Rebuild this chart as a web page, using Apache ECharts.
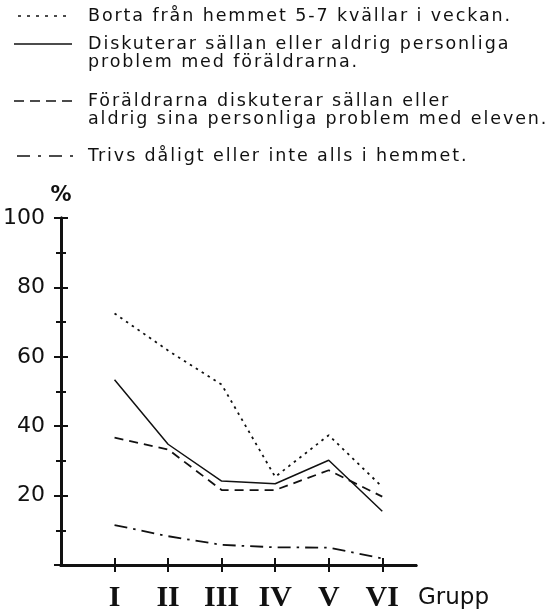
<!DOCTYPE html>
<html><head><meta charset="utf-8">
<script src="https://cdn.jsdelivr.net/npm/echarts@6/dist/echarts.min.js"></script>
<style>html,body{margin:0;padding:0;background:#fff}#c{width:557px;height:614px}</style>
</head><body><div id="c"></div>
<script>
var groups = [1, 2, 3, 4, 5, 6];
var groupLabels = ['I', 'II', 'III', 'IV', 'V', 'VI'];
var bortaHemma = [72.5, 61.8, 52, 25.4, 37.4, 22.5];
var diskuterarSallan = [53.4, 34.8, 24.2, 23.4, 30.2, 15.5];
var foraldrarDiskuterar = [36.7, 33.3, 21.6, 21.6, 27.3, 19.7];
var trivsDaligt = [11.5, 8.3, 5.8, 5.1, 5.0, 1.9];
var legendLines = [
  ['Borta från hemmet 5-7 kvällar i veckan.'],
  ['Diskuterar sällan eller aldrig personliga', 'problem med föräldrarna.'],
  ['Föräldrarna diskuterar sällan eller', 'aldrig sina personliga problem med eleven.'],
  ['Trivs dåligt eller inte alls i hemmet.']
];

// widen the lettering of the legend text (reference uses spaced stencil lettering)
(function(){
  var P = CanvasRenderingContext2D.prototype, orig = P.fillText;
  P.fillText = function(t, x, y, m){
    if ('letterSpacing' in this) this.letterSpacing = (this.font.indexOf('17.5px') >= 0) ? '1.9px' : '0px';
    return m === undefined ? orig.call(this, t, x, y) : orig.call(this, t, x, y, m);
  };
})();

function pairs(vals){ return groups.map(function(g,i){ return [g, vals[i]]; }); }

var ink = '#111';
var dashes = [[2.5, 4.5], null, [9, 6], [13, 6, 2.5, 6]];
var legendDashes = [[3, 6], null, [10, 6], [13, 8, 3, 8]];
var legendY = [[16], [44, 62], [101, 119], [156]];
var legendX = [[18, 66], [14, 72], [14, 73], [17, 73]];
var seriesVals = [bortaHemma, diskuterarSallan, foraldrarDiskuterar, trivsDaligt];

var graphic = [];
legendLines.forEach(function(lines, k){
  graphic.push({type:'line', shape:{x1:legendX[k][0], y1:legendY[k][0], x2:legendX[k][1], y2:legendY[k][0]},
    style:{stroke:ink, lineWidth:1.7, lineDash: legendDashes[k] || null}});
  lines.forEach(function(t, j){
    graphic.push({type:'text', x:88, y:legendY[k][j], style:{text:t, fill:ink, font:'17.5px "DejaVu Sans"', textVerticalAlign:'middle'}});
  });
});
graphic.push({type:'text', x:418, y:598, style:{text:'Grupp', fill:ink, font:'23px "DejaVu Sans"', textVerticalAlign:'middle'}});

var chart = echarts.init(document.getElementById('c'), null, {renderer:'canvas'});
var xBase = {
  type:'value', min:0, max:6.63, position:'bottom',
  axisLine:{show:true, onZero:false, lineStyle:{color:ink, width:3}},
  splitLine:{show:false}
};
var yBase = {
  type:'value', min:0, max:100, interval:20, position:'left',
  axisLine:{show:true, onZero:false, lineStyle:{color:ink, width:3}},
  splitLine:{show:false}
};
chart.setOption({
  backgroundColor:'#fff',
  animation:false,
  grid:{left:60, right:141, top:218, bottom:49},
  graphic: graphic,
  xAxis:[
    Object.assign({}, xBase, {
      axisTick:{show:true, inside:false, length:7, lineStyle:{color:ink, width:2}, customValues:groups},
      axisLabel:{show:true, customValues:groups, margin:18, color:ink,
        fontFamily:'"Liberation Serif"', fontWeight:'bold', fontSize:30,
        formatter:function(v){ var i = groups.indexOf(v); return i >= 0 ? groupLabels[i] : ''; }}
    }),
    Object.assign({}, xBase, {
      axisTick:{show:true, inside:true, length:7, lineStyle:{color:ink, width:2}, customValues:groups},
      axisLabel:{show:false}
    })
  ],
  yAxis:[
    Object.assign({}, yBase, {
      name:'%', nameLocation:'end', nameGap:12,
      nameTextStyle:{color:ink, fontSize:21, fontWeight:'bold', fontFamily:'"DejaVu Sans"', align:'center'},
      axisTick:{show:true, inside:false, length:7, lineStyle:{color:ink, width:2}},
      minorTick:{show:true, splitNumber:2, length:5, lineStyle:{color:ink, width:2}},
      axisLabel:{show:true, color:ink, fontSize:22, fontFamily:'"DejaVu Sans"', margin:16,
        formatter:function(v){ return v === 0 ? '' : String(v); }}
    }),
    Object.assign({}, yBase, {
      axisTick:{show:true, inside:true, length:7, lineStyle:{color:ink, width:2}},
      minorTick:{show:true, splitNumber:2, length:5, lineStyle:{color:ink, width:2}},
      axisLabel:{show:false}
    })
  ],
  series: seriesVals.map(function(vals, k){
    return {
      type:'line', xAxisIndex:0, yAxisIndex:0, data:pairs(vals), symbol:'none',
      lineStyle:{color:ink, width: k===1 ? 1.5 : 1.8, type: dashes[k] || 'solid'},
      z: 3
    };
  })
});
</script></body></html>
